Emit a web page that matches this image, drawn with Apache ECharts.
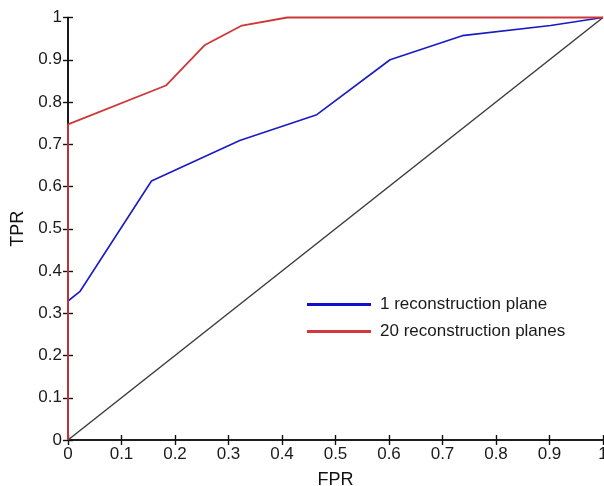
<!DOCTYPE html>
<html>
<head>
<meta charset="utf-8">
<script src="https://cdn.jsdelivr.net/npm/echarts@6/dist/echarts.min.js"></script>
<style>
  html, body { margin: 0; padding: 0; background: #fff; }
  #chart { width: 604px; height: 486px; }
</style>
</head>
<body>
<div id="chart"></div>
<script>
// ROC curves: true positive rate against false positive rate
const seriesNames = ['1 reconstruction plane', '20 reconstruction planes'];
const onePlaneFPR = [0, 0.022, 0.156, 0.321, 0.465, 0.602, 0.737, 0.902, 1];
const onePlaneTPR = [0.329, 0.351, 0.613, 0.709, 0.770, 0.900, 0.957, 0.981, 1];
const twentyPlanesFPR = [0, 0, 0.183, 0.256, 0.325, 0.41, 1];
const twentyPlanesTPR = [0, 0.747, 0.839, 0.935, 0.981, 1, 1];
// chance diagonal
const chanceFPR = [0, 1];
const chanceTPR = [0, 1];
const tickLabels = ['0', '0.1', '0.2', '0.3', '0.4', '0.5', '0.6', '0.7', '0.8', '0.9', '1'];

const FONT = "'Liberation Sans', Arial, Helvetica, sans-serif";
const zip = (xs, ys) => xs.map((x, i) => [x, ys[i]]);
const tickFormatter = v => tickLabels[Math.round(v * 10)] ?? '';

const axisLine = { show: true, lineStyle: { color: '#111', width: 1.6 } };
const axisTick = { show: true, inside: true, length: 5, lineStyle: { color: '#111', width: 1.4 } };
const labelStyle = { color: '#1a1a1a', fontSize: 17, fontFamily: FONT, margin: 6, formatter: tickFormatter };

const chart = echarts.init(document.getElementById('chart'), null, { renderer: 'canvas' });
chart.setOption({
  animation: false,
  backgroundColor: '#fff',
  grid: { left: 68, right: 1, top: 17.5, bottom: 46, containLabel: false, outerBoundsMode: 'none' },
  xAxis: [
    {
      type: 'value', position: 'bottom', min: 0, max: 1, interval: 0.1,
      name: 'FPR', nameLocation: 'middle', nameGap: 31,
      nameTextStyle: { color: '#111', fontSize: 18, fontFamily: FONT },
      axisLine, axisTick, splitLine: { show: false },
      axisLabel: labelStyle
    },
    {
      type: 'value', position: 'top', min: 0, max: 1, interval: 0.1,
      axisLine, axisTick, splitLine: { show: false },
      axisLabel: { show: false }
    }
  ],
  yAxis: [
    {
      type: 'value', position: 'left', min: 0, max: 1, interval: 0.1,
      name: 'TPR', nameLocation: 'middle', nameGap: 41,
      nameTextStyle: { color: '#111', fontSize: 18, fontFamily: FONT },
      axisLine, axisTick, splitLine: { show: false },
      axisLabel: labelStyle
    },
    {
      type: 'value', position: 'right', min: 0, max: 1, interval: 0.1,
      axisLine, axisTick, splitLine: { show: false },
      axisLabel: { show: false }
    }
  ],
  legend: {
    data: seriesNames,
    orient: 'vertical',
    left: 307,
    top: 296,
    padding: 0,
    itemWidth: 64,
    itemHeight: 3,
    itemGap: 10,
    icon: 'rect',
    textStyle: { color: '#1a1a1a', fontSize: 17, lineHeight: 16, fontFamily: FONT, padding: [0, 0, 0, 4] }
  },
  series: [
    {
      type: 'line', name: 'chance', data: zip(chanceFPR, chanceTPR),
      symbol: 'none', clip: false, silent: true,
      lineStyle: { color: '#3c3c3c', width: 1.5 }, itemStyle: { color: '#3c3c3c' }
    },
    {
      type: 'line', name: seriesNames[0], data: zip(onePlaneFPR, onePlaneTPR),
      symbol: 'none', clip: false,
      lineStyle: { color: '#1a1ac4', width: 1.6 }, itemStyle: { color: '#1010c8' }
    },
    {
      type: 'line', name: seriesNames[1], data: zip(twentyPlanesFPR, twentyPlanesTPR),
      symbol: 'none', clip: false,
      lineStyle: { color: '#cf3636', width: 1.8 }, itemStyle: { color: '#d03a3a' }
    }
  ]
});
</script>
</body>
</html>
